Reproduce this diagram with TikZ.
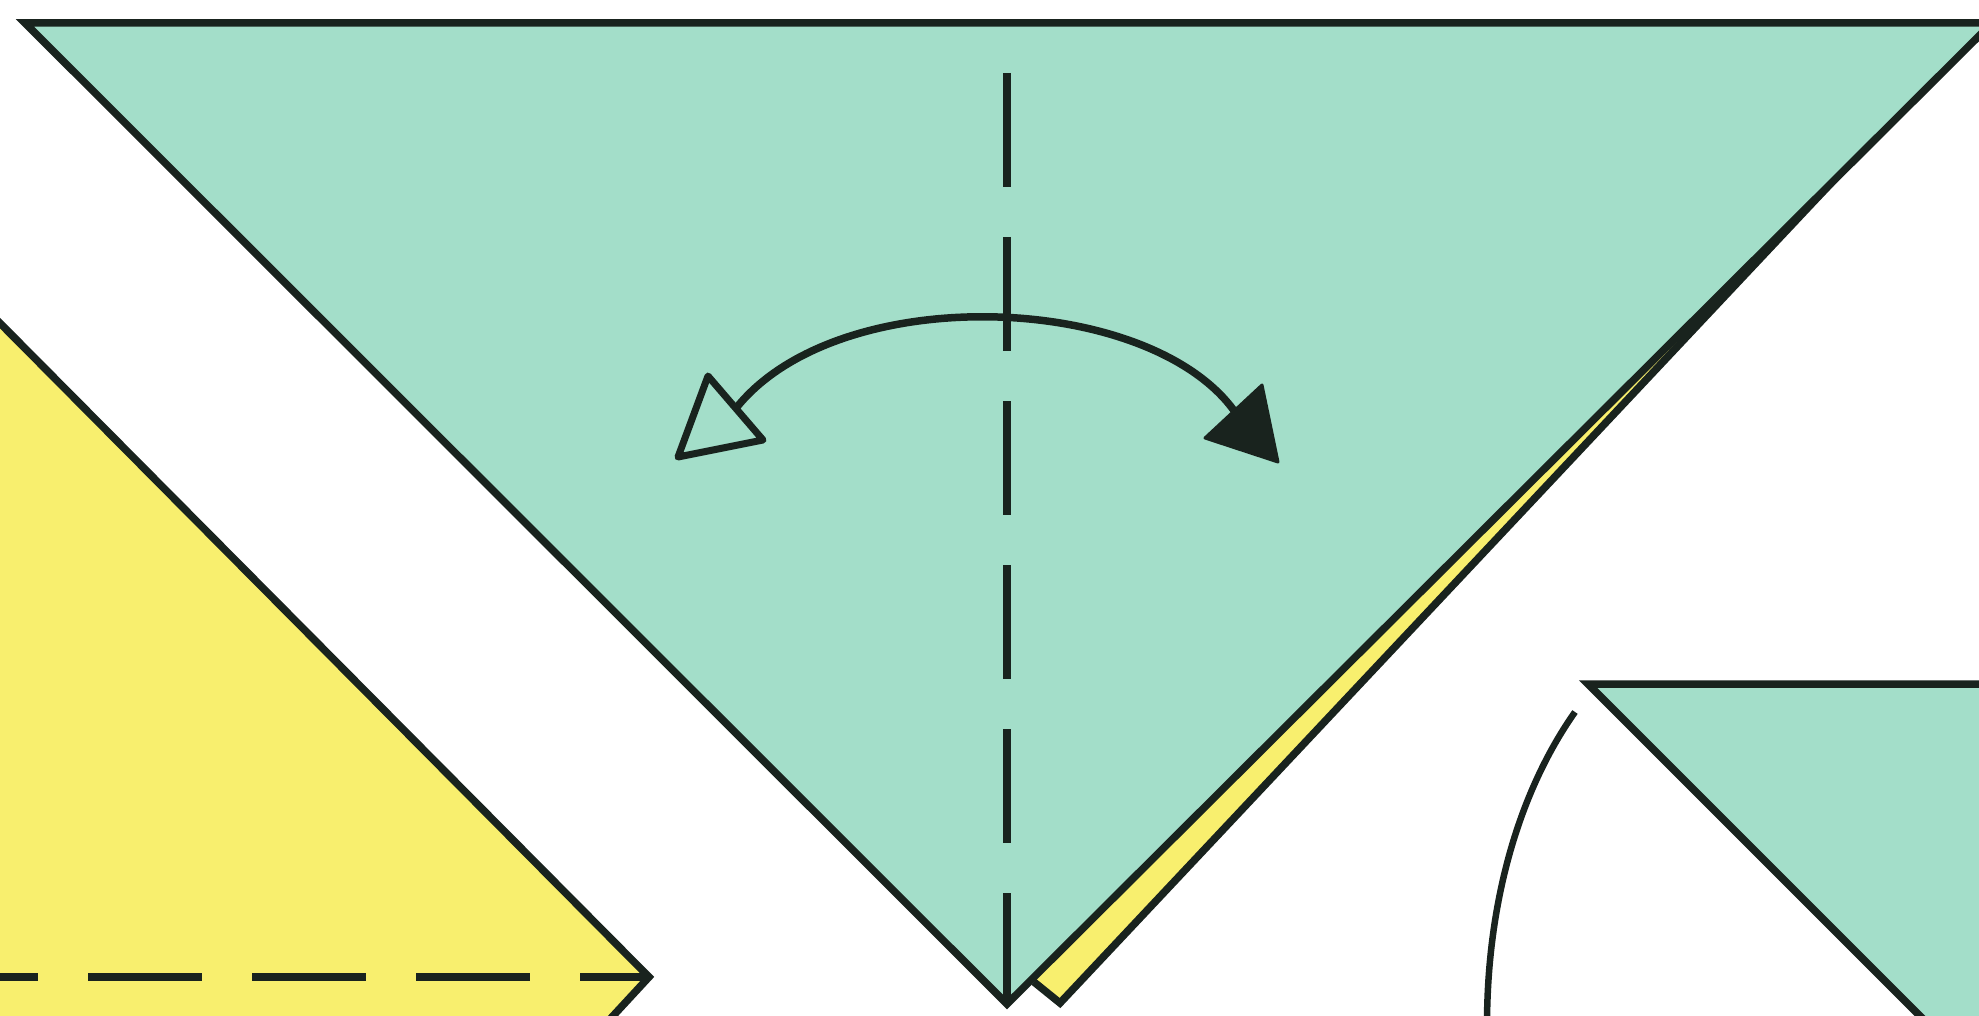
\documentclass[tikz,border=0pt]{standalone}
\usetikzlibrary{calc}
\definecolor{paperteal}{RGB}{163,222,201}
\definecolor{paperyellow}{RGB}{248,239,110}
\definecolor{inkline}{RGB}{25,35,30}
\begin{document}
\begin{tikzpicture}[x=1pt,y=-1pt,
  edge/.style={draw=inkline,line width=7.5pt,line join=miter},
  foldline/.style={draw=inkline,line width=7.5pt,dash pattern=on 114pt off 50pt},
  arrowline/.style={draw=inkline,line width=7.5pt}]
\useasboundingbox (0,0) rectangle (1979,1016);
\clip (0,0) rectangle (1979,1016);
\fill[white] (0,0) rectangle (1979,1016);
% left yellow piece
\coordinate (ylA) at (-20,303);
\coordinate (ylC) at (649,977);
\coordinate (ylB) at (600,1030);
\fill[paperyellow] (ylA) -- (ylC) -- (ylB) -- (-20,1030) -- cycle;
\draw[edge] (ylA) -- (ylC) -- (ylB);
\draw[foldline] (-76,977) -- (ylC);
% yellow strip behind main triangle
\coordinate (sS) at (1850,163);
\coordinate (sB2) at (1060,1003);
\coordinate (sB1) at (1034,982);
\fill[paperyellow] (sS) -- (sB2) -- (sB1) -- cycle;
\draw[edge] (sS) -- (sB2) -- (sB1);
% main teal triangle
\coordinate (tL) at (25,23);
\coordinate (tR) at (1992,23);
\coordinate (tB) at (1007,1004);
\fill[paperteal] (tL) -- (tR) -- (tB) -- cycle;
\draw[edge] (tL) -- (tR) -- (tB) -- cycle;
% vertical valley fold
\draw[foldline] (1007,73) -- (tB);
% fold and unfold arrow
\coordinate (aL) at (737,407);
\coordinate (aR) at (1235,412);
\draw[arrowline] (aL) .. controls (840,280) and (1150,292) .. (aR);
\draw[edge,line width=7pt,fill=paperteal,line join=round] (678,457) -- (708,376) -- (763,440) -- cycle;
\fill[inkline] (1278,462) -- (1262,385) -- (1205,438) -- cycle;
\draw[inkline,line width=3pt,line join=round] (1278,462) -- (1262,385) -- (1205,438) -- cycle;
% right lower teal piece
\coordinate (rT) at (1588,684);
\fill[paperteal] (rT) -- (2000,684) -- (2000,1030) -- (1934,1030) -- cycle;
\draw[edge] (2000,684) -- (rT) -- (1934,1030);
% curved arrow line
\coordinate (cS) at (1575,712);
\coordinate (cE) at (1487,1025);
\draw[arrowline,line width=6.5pt] (cS) .. controls (1520,790) and (1487,900) .. (cE);
\end{tikzpicture}
\end{document}
